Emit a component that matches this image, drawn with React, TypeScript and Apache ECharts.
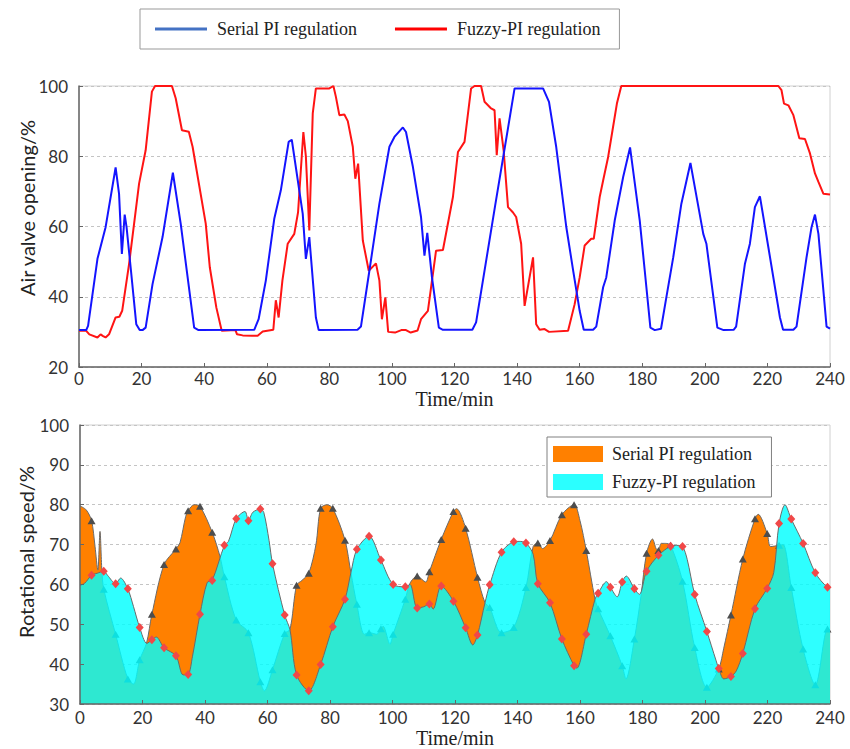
import React, { useEffect, useRef } from 'react';
import * as echarts from 'echarts';

// ---------- Top chart: air valve opening (%) vs time (min) ----------
const valveSerial: [number, number][] = [
  [0, 30.5], [2.3, 30.5], [2.9, 31.7], [5.9, 50.8], [8.5, 59.8], [11.7, 76.8], [12.8, 69.3], [13.7, 52.2],
  [14.6, 63.4], [15.2, 59.8], [16.5, 48.4], [18.3, 32.2], [19.4, 30.5], [20.3, 30.5], [21.3, 31.2], [23.5, 43.6],
  [26.7, 57], [30, 75.3], [32.5, 60.8], [36.8, 31.2], [38.2, 30.5], [56, 30.6], [57.4, 33.6], [59.7, 44.6],
  [62.4, 62.2], [64.5, 70.3], [67, 84.1], [68, 84.7], [71.5, 63.6], [72.5, 50.8], [73.6, 57], [75.7, 34.1],
  [76.6, 30.5], [89, 30.6], [90.1, 31.5], [92.8, 47.4], [96, 66.5], [99.2, 82.7], [100.8, 85.5], [103.5, 88.2],
  [104.5, 86.9], [106.7, 77], [109.3, 62.7], [110.4, 51.7], [111.3, 58.2], [112.8, 45.5], [115, 31.2], [116.3, 30.6],
  [125.7, 30.6], [126.9, 32.7], [133, 66], [139.2, 99.3], [148.3, 99.3], [150.2, 95.5], [152.5, 82.7], [155.7, 60],
  [158, 47], [160, 36], [161.3, 30.6], [164.3, 30.6], [165.3, 31.5], [167.5, 42.7], [168.5, 45.5], [171.2, 61.7],
  [173.9, 74.1], [176.1, 82.5], [179.2, 61.7], [180.8, 47.4], [182.6, 31.2], [184, 30.5], [186, 30.9], [187.7, 39.8],
  [189.9, 51.2], [192.5, 66.5], [195.4, 78.1], [199.5, 57.9], [200.5, 55.1], [204, 31.2], [206, 30.5], [209.2, 30.6],
  [210, 31.5], [212.8, 49.3], [214.4, 55.1], [216, 65.5], [217.6, 68.6], [220.3, 54.1], [224, 34.1], [225, 30.6],
  [228.3, 30.6], [229.3, 31.5], [232.5, 51.2], [234.1, 59.8], [235.2, 63.4], [236.3, 57.9], [238.9, 31.5], [240, 30.9],
];

const valveFuzzy: [number, number][] = [
  [0, 30.3], [2.3, 30.3], [3.3, 29.3], [5.9, 28.4], [6.9, 29.3], [7.7, 28.8], [8.5, 28.4], [9.6, 29.3],
  [11.7, 34.1], [12.9, 34.3], [13.8, 36], [16, 49.3], [19.2, 72.2], [21.3, 81.7], [23.3, 98.4], [24.3, 100],
  [29.7, 100], [30.9, 96.5], [32.9, 87.4], [35.1, 87], [36.3, 82.7], [40.5, 60.8], [41.8, 48.4], [43.9, 36.9],
  [45.6, 30.3], [50, 30.5], [50.5, 29.3], [52.3, 29], [55.3, 28.9], [57.1, 28.9], [58.7, 30.1], [62.1, 30.6],
  [62.9, 39], [63.8, 34.1], [65, 44.6], [66.7, 55.1], [68.8, 57.9], [70, 64], [71.7, 86.9], [72.5, 80],
  [73.6, 58.9], [74.7, 92.2], [75.7, 99.3], [80, 99.3], [81.3, 100], [82.1, 96.9], [83.2, 91.7], [84.8, 91.9],
  [85.9, 90], [87.5, 82.7], [88.3, 73.6], [89.2, 77.9], [90.7, 56], [92.6, 47.4], [94.9, 49.5], [96, 44.6],
  [96.8, 33.6], [97.9, 39.8], [98.8, 30], [101, 29.8], [103, 30.5], [104.5, 30.5], [106, 29.8], [108.2, 30.4],
  [109.3, 33.6], [111.5, 36], [114.1, 53.1], [116.3, 53.3], [119.5, 68.4], [121.1, 81.2], [123.2, 84.1], [125.3, 99.3],
  [126.4, 100], [128.5, 100], [129.6, 95.5], [131.7, 93.6], [132.8, 93.1], [133.5, 80.3], [134.4, 90.8], [135.7, 81.7],
  [137.1, 65.5], [138.7, 64], [139.7, 62.7], [141.3, 55.1], [142.4, 37.4], [145.1, 51.2], [146.1, 32.2], [147.2, 30.6],
  [148.8, 30.8], [150.2, 30], [156.3, 30.3], [158.4, 37.9], [160, 45.5], [161.6, 54.6], [163.7, 56.5], [164.5, 56.5],
  [166.4, 68.4], [167.5, 73.1], [169.1, 79.8], [170.5, 87.4], [171.9, 95], [173.3, 100], [223.5, 100], [224.5, 98.8],
  [225.3, 95], [226.7, 94.5], [228.3, 91.7], [230.2, 85.1], [232, 84.9], [233.6, 80.8], [235.2, 75.1], [236.3, 72.7],
  [237.9, 69.3], [240, 69.1],
];

// ---------- Bottom chart: rotational speed (%) vs time (min) ----------
const markerTimes: number[] = [
  3.7, 7.6, 11.4, 15.3, 19.1, 23.0, 26.9, 30.7, 34.6, 38.4,
  42.3, 46.2, 50.0, 53.9, 57.7, 61.6, 65.5, 69.3, 73.2, 77.0,
  80.9, 84.8, 88.6, 92.5, 96.3, 100.2, 104.1, 107.9, 111.8, 115.6,
  119.5, 123.4, 127.2, 131.1, 134.9, 138.8, 142.7, 146.5, 150.4, 154.2,
  158.1, 162.0, 165.8, 169.7, 173.5, 177.4, 181.3, 185.1, 189.0, 192.8,
  196.7, 200.6, 204.4, 208.3, 212.1, 216.0, 219.9, 223.7, 227.6, 231.4,
  235.3, 239.2,
];

const speedSerialMarks: number[] = [
  76, 58.8, 47.5, 36.3, 41.1, 52.5, 65, 68.9, 78.5, 79.6,
  73.1, 61.9, 51.1, 47.9, 35.6, 38.6, 47.7, 59.8, 62.8, 79.1,
  79.1, 71.1, 55, 47.9, 48.9, 47.5, 56.3, 62.1, 63.2, 71.3,
  78.3, 74.1, 61.8, 54.2, 47.9, 49.2, 59.2, 70.4, 71, 77.5,
  80, 68.5, 53.9, 47.1, 39.6, 46.3, 67.8, 68.5, 69.8, 60.8,
  44.2, 34.2, 38.8, 52.3, 66.4, 76.5, 72.8, 69.8, 59.2, 43.8,
  34.8, 48.8,
];

const speedFuzzyMarks: number[] = [
  62.3, 63.3, 60.2, 58.9, 49.2, 46.1, 44.1, 42.1, 37.4, 52.5,
  61, 69.8, 76.5, 76, 78.9, 65.2, 52.3, 37.3, 33.3, 39.9,
  49.4, 56.3, 68.8, 72.1, 66.1, 60, 59.4, 54.1, 55.1, 59.6,
  55.8, 49.1, 47.3, 59.9, 68.1, 70.7, 70.4, 60.2, 55.4, 46.3,
  39.6, 47.5, 57.8, 59.3, 60.6, 58.9, 63.3, 67.3, 69.6, 69.5,
  57.5, 48.2, 38.9, 36.9, 42.7, 53.9, 59, 75.3, 76.4, 70.3,
  62.9, 59.3,
];

const speedSerialExtra: [number, number][] = [
  [0, 79.7], [2, 78.7], [4.8, 69.6], [5.7, 63.6], [6.4, 73.3], [7.0, 63.5], [17.1, 35], [21.3, 45.3],
  [32, 70.5], [33.8, 77], [36.5, 80], [44.8, 67], [59, 33.3], [67.2, 48.7], [71, 61], [75.5, 70],
  [79, 80], [86.7, 62.9], [91, 47.5], [95, 47.5], [97, 49.5], [99.2, 45], [105.6, 60.3], [110.6, 60.6],
  [120.5, 79], [129.6, 55.4], [145, 69.5], [148, 69], [160, 76], [164.8, 56.3], [174.7, 36.3], [179.5, 57],
  [183.2, 71.4], [184.4, 68.9], [186, 70.3], [187.3, 70.3], [206, 44], [217, 77.6], [221, 69.5], [225, 70],
  [240, 48.6],
];

const speedFuzzyExtra: [number, number][] = [
  [0, 59.8], [1.5, 60.3], [5.5, 62.8], [8.8, 62.3], [13, 61.6], [17.1, 54.5], [21.4, 45.2], [24.4, 46.8],
  [33, 37.3], [36, 42], [40.7, 60.5], [47.5, 70.8], [52.8, 78.3], [55.3, 78.1], [58.8, 78.1], [60.5, 71],
  [67.2, 48.6], [86.7, 63], [105.6, 60], [110, 54.4], [113, 53.8], [125.7, 44.8], [129.6, 55.4], [140.5, 70.8],
  [145, 67.6], [159, 39], [164.8, 56.3], [168.5, 60.7], [171.9, 56.9], [174.8, 62.1], [179, 57.5], [190.9, 69.8],
  [194.3, 66.3], [203.5, 41], [206, 36.3], [210, 38.3], [222, 63], [225.6, 80], [240, 59.2],
];

const NAME_SERIAL = 'Serial PI regulation';
const NAME_FUZZY = 'Fuzzy-PI regulation';

function buildSpeedData(
  marks: number[],
  extras: [number, number][],
  symbol: string,
  size: number | number[],
  color: string
) {
  const pts = markerTimes.map((t, i) => ({
    value: [t, marks[i]],
    symbol,
    symbolSize: size,
    itemStyle: { color },
  }));
  const ex = extras.map(([t, v]) => ({ value: [t, v], symbol: 'none' }));
  return [...pts, ...ex].sort((a, b) => a.value[0] - b.value[0]);
}

const tickFont = { fontFamily: 'Lato', fontSize: 17, color: '#333' };
const axisLineStyle = { color: '#666', width: 1.5 };

export default function App() {
  const ref = useRef<HTMLDivElement>(null);

  useEffect(() => {
    if (!ref.current) return;
    const chart = echarts.init(ref.current, undefined, { renderer: 'svg' });

    const xAxisBase = (gridIndex: number, margin: number, nameGap: number) => ({
      gridIndex,
      type: 'value',
      min: 0,
      max: 240,
      interval: 20,
      z: 10,
      axisLine: { show: true, onZero: false, lineStyle: axisLineStyle },
      axisTick: { show: true, inside: true, length: 4, lineStyle: { color: '#666' } },
      axisLabel: { ...tickFont, margin },
      splitLine: { show: false },
      name: 'Time/min',
      nameLocation: 'middle',
      nameGap,
      nameTextStyle: { fontFamily: 'Liberation Serif', fontSize: 20, color: '#222' },
    });

    const option: any = {
      animation: false,
      backgroundColor: '#fff',
      grid: [
        { left: 79, right: 20, top: 86, height: 281, show: true, borderColor: '#d0d0d0', borderWidth: 1 },
        { left: 80, right: 20, top: 425, height: 280, show: true, borderColor: '#d0d0d0', borderWidth: 1 },
      ],
      legend: [
        {
          left: 140,
          top: 9,
          orient: 'horizontal',
          itemWidth: 52,
          itemHeight: 3,
          itemGap: 38,
          padding: [11, 19, 11, 15],
          borderColor: '#999',
          borderWidth: 1,
          backgroundColor: '#fff',
          selectedMode: false,
          textStyle: { fontFamily: 'Liberation Serif', fontSize: 18, color: '#222', padding: [0, 0, 0, 5] },
          data: [
            { name: NAME_SERIAL, icon: 'rect', itemStyle: { color: '#4472C4', borderWidth: 0 } },
            { name: NAME_FUZZY, icon: 'rect', itemStyle: { color: '#FF0000', borderWidth: 0 } },
          ],
        },
        {
          left: 547,
          top: 437,
          orient: 'vertical',
          itemWidth: 50,
          itemHeight: 16,
          itemGap: 10,
          padding: [8, 16, 6, 6],
          borderColor: '#808080',
          borderWidth: 1,
          backgroundColor: '#fff',
          selectedMode: false,
          textStyle: { fontFamily: 'Liberation Serif', fontSize: 18, color: '#222', padding: [0, 0, 0, 4] },
          data: [
            { name: NAME_SERIAL, icon: 'rect', itemStyle: { color: '#FF8000', borderWidth: 0 } },
            { name: NAME_FUZZY, icon: 'rect', itemStyle: { color: '#2BFFFF', borderWidth: 0 } },
          ],
        },
      ],
      xAxis: [xAxisBase(0, 3, 22), xAxisBase(1, 5, 24)],
      yAxis: [
        {
          gridIndex: 0,
          type: 'value',
          min: 20,
          max: 100,
          interval: 20,
          axisLine: { show: true, lineStyle: axisLineStyle },
          axisTick: { show: true, inside: true, length: 4, lineStyle: { color: '#666' } },
          axisLabel: { ...tickFont, margin: 11 },
          splitLine: { show: true, lineStyle: { type: [3, 3], color: '#c4c4c4', width: 1 } },
        },
        {
          gridIndex: 1,
          type: 'value',
          min: 30,
          max: 100,
          interval: 10,
          z: 10,
          axisLine: { show: true, lineStyle: axisLineStyle },
          axisTick: { show: true, inside: true, length: 4, lineStyle: { color: '#666' } },
          axisLabel: { ...tickFont, margin: 11 },
          splitLine: { show: false },
        },
        {
          gridIndex: 1,
          type: 'value',
          min: 30,
          max: 100,
          interval: 10,
          z: 0,
          position: 'left',
          axisLine: { show: false },
          axisTick: { show: false },
          axisLabel: { show: false },
          splitLine: { show: true, lineStyle: { type: [3, 3], color: '#c4c4c4', width: 1 } },
        },
      ],
      graphic: [
        {
          type: 'text',
          x: 27,
          y: 208,
          rotation: Math.PI / 2,
          style: {
            text: 'Air valve opening/%',
            fontFamily: 'Lato',
            fontSize: 20,
            fill: '#222',
            align: 'center',
            verticalAlign: 'middle',
          },
        },
        {
          type: 'text',
          x: 26,
          y: 552,
          rotation: Math.PI / 2,
          style: {
            text: 'Rotational speed/%',
            fontFamily: 'Lato',
            fontSize: 20,
            fill: '#222',
            align: 'center',
            verticalAlign: 'middle',
          },
        },
      ],
      series: [
        {
          type: 'line',
          name: NAME_SERIAL,
          xAxisIndex: 0,
          yAxisIndex: 0,
          data: valveSerial,
          showSymbol: false,
          lineStyle: { color: '#1414FF', width: 2 },
          itemStyle: { color: '#1414FF' },
          z: 3,
        },
        {
          type: 'line',
          name: NAME_FUZZY,
          xAxisIndex: 0,
          yAxisIndex: 0,
          data: valveFuzzy,
          showSymbol: false,
          lineStyle: { color: '#FF1414', width: 2 },
          itemStyle: { color: '#FF1414' },
          z: 2,
        },
        {
          type: 'line',
          name: NAME_SERIAL,
          xAxisIndex: 1,
          yAxisIndex: 1,
          data: buildSpeedData(speedSerialMarks, speedSerialExtra, 'triangle', [8, 7], '#4d4d4d'),
          smooth: 0.3,
          lineStyle: { color: '#6a6a6a', width: 1 },
          areaStyle: { color: '#FF8000', opacity: 1 },
          itemStyle: { color: '#4d4d4d' },
          z: 2,
        },
        {
          type: 'line',
          name: NAME_FUZZY,
          xAxisIndex: 1,
          yAxisIndex: 1,
          data: buildSpeedData(speedFuzzyMarks, speedFuzzyExtra, 'diamond', [8, 9], '#F04848'),
          smooth: 0.3,
          lineStyle: { color: '#6a6a6a', width: 1 },
          areaStyle: { color: '#00FFFF', opacity: 0.82 },
          itemStyle: { color: '#F04848' },
          z: 3,
        },
      ],
    };

    chart.setOption(option);
    return () => chart.dispose();
  }, []);

  return (
    <div
      ref={ref}
      style={{ position: 'fixed', left: 0, top: 0, width: 850, height: 749, background: '#fff' }}
    />
  );
}
